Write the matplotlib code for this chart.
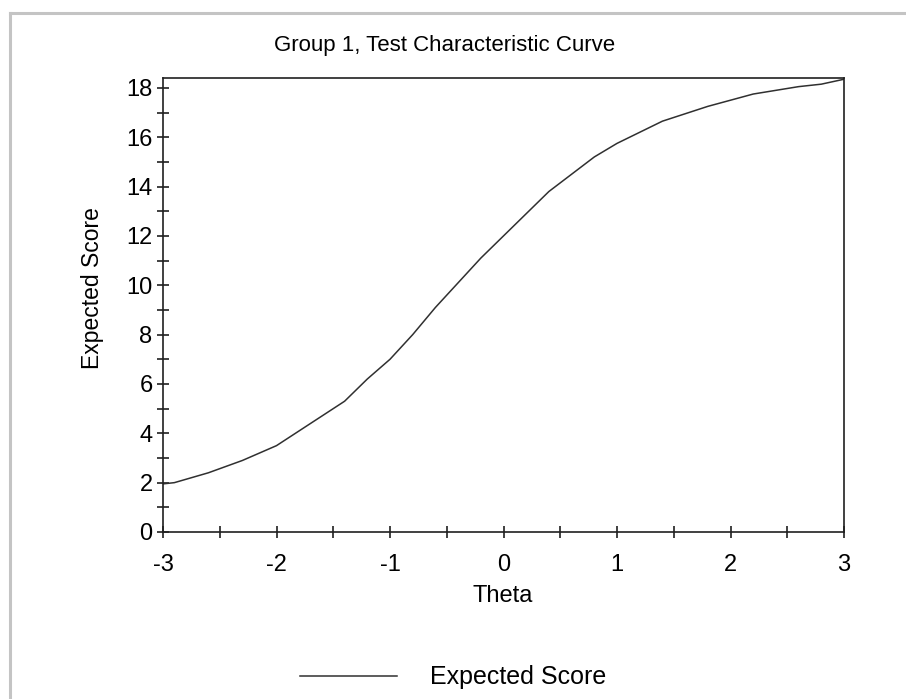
import matplotlib
matplotlib.use("Agg")
import matplotlib.pyplot as plt
from matplotlib.lines import Line2D
from matplotlib.ticker import MultipleLocator

plt.rcParams['font.family'] = ['Liberation Sans', 'DejaVu Sans']

theta = [-3.0, -2.9, -2.6, -2.3, -2.0, -1.8, -1.6, -1.4, -1.2, -1.0,
         -0.8, -0.6, -0.4, -0.2, 0.0, 0.2, 0.4, 0.6, 0.8, 1.0,
         1.2, 1.4, 1.6, 1.8, 2.0, 2.2, 2.4, 2.6, 2.8, 3.0]
expected = [1.95, 2.0, 2.4, 2.9, 3.5, 4.1, 4.7, 5.3, 6.2, 7.0,
            8.0, 9.1, 10.1, 11.1, 12.0, 12.9, 13.8, 14.5, 15.2, 15.75,
            16.2, 16.65, 16.95, 17.25, 17.5, 17.75, 17.9, 18.05, 18.15, 18.35]

title = "Group 1, Test Characteristic Curve"
xlabel = "Theta"
ylabel = "Expected Score"
series_name = "Expected Score"

W, H = 906, 699
fig = plt.figure(figsize=(W / 100, H / 100), dpi=100)
ax = fig.add_axes([163 / W, 1 - 532 / H, (844 - 163) / W, (532 - 78) / H])

ax.plot(theta, expected, color='#303030', linewidth=1.1)
ax.set_xlim(-3, 3)
ax.set_ylim(0, 18.4)

ax.xaxis.set_major_locator(MultipleLocator(1))
ax.xaxis.set_minor_locator(MultipleLocator(0.5))
ax.yaxis.set_major_locator(MultipleLocator(2))
ax.yaxis.set_minor_locator(MultipleLocator(1))
ax.tick_params(which='both', direction='inout', length=9, width=1.2,
               top=False, right=False, color='#202020')
ax.tick_params(axis='both', which='major', labelsize=17)
ax.tick_params(axis='x', which='major', pad=11)
ax.tick_params(axis='y', which='major', pad=3)
for s in ax.spines.values():
    s.set_linewidth(1.2)
    s.set_color('#202020')

ax.set_xticks([-3, -2, -1, 0, 1, 2, 3])
ax.set_xticklabels(['-3', '-2', '-1', '0', '1', '2', '3'])

fig.text(445 / W, 1 - 45 / H, title, ha='center', va='center', fontsize=16)
fig.text(503 / W, 1 - 596 / H, xlabel, ha='center', va='center', fontsize=17)
fig.text(93 / W, 1 - 288 / H, ylabel, ha='center', va='center', fontsize=16.5,
         rotation=90)

# legend
fig.add_artist(Line2D([300 / W, 397 / W], [1 - 676 / H, 1 - 676 / H],
                      color='#303030', linewidth=1.1))
fig.text(430 / W, 1 - 677 / H, series_name, ha='left', va='center', fontsize=18)

# outer gray frame
fig.add_artist(Line2D([9.5 / W, 9.5 / W], [0, 1 - 13 / H], color='#c4c4c4', linewidth=2.2))
fig.add_artist(Line2D([9.5 / W, 1], [1 - 13 / H, 1 - 13 / H], color='#c4c4c4', linewidth=2.2))

fig.savefig("out.png", dpi=100)
